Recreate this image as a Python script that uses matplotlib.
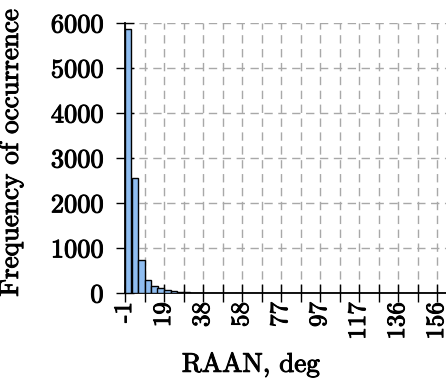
import numpy as np
import matplotlib
matplotlib.use("Agg")
import matplotlib.pyplot as plt
import matplotlib.patheffects as pe

# histogram of RAAN values
raan_min = -1.0
raan_max = 195.0
n_bins = 60
counts = [5870, 2550, 740, 290, 165, 105, 62, 38, 24, 16,
          11, 8, 6, 5, 4, 4, 3, 3, 2, 2,
          1, 1, 1, 1, 0, 0, 0, 0, 0, 0,
          0, 0, 0, 0, 0, 0, 0, 0, 0, 0,
          0, 0, 0, 0, 0, 0, 0, 0, 0, 0,
          0, 0, 0, 0, 0, 0, 0, 0, 0, 0]
y_ticks = [0, 1000, 2000, 3000, 4000, 5000, 6000]

plt.rcParams['font.family'] = ['cmr10', 'DejaVu Serif']
plt.rcParams['axes.unicode_minus'] = False
plt.rcParams['mathtext.fontset'] = 'cm'

W, H = 446, 390
fig = plt.figure(figsize=(W / 100, H / 100), dpi=100)
# the axes runs past the right edge of the picture (cropped original)
ax = fig.add_axes([125 / W, 97 / H, 390 / W, 270 / H])

edges = np.linspace(raan_min, raan_max, n_bins + 1)
ax.bar(edges[:-1], counts, width=np.diff(edges), align='edge',
       color='#8fbdf0', edgecolor='black', linewidth=1.0, zorder=3)

major = np.linspace(raan_min, raan_max, 11)
minor = (major[:-1] + major[1:]) / 2
ax.set_xticks(major)
ax.set_xticklabels([f"{v:.0f}" for v in major], rotation=90)
ax.set_xticks(minor, minor=True)
ax.set_yticks(y_ticks)
ax.set_xlim(raan_min, raan_max)
ax.set_ylim(0, 6000)

ax.grid(True, which='both', axis='x', linestyle=(0, (6, 4)), color='#a8a8a8', linewidth=1.0, zorder=0)
ax.grid(True, which='major', axis='y', linestyle=(0, (6, 4)), color='#a8a8a8', linewidth=1.0, zorder=0)
ax.set_axisbelow(True)

for s in ['top', 'right']:
    ax.spines[s].set_visible(False)
ax.spines['left'].set_linewidth(1.3)
ax.spines['bottom'].set_linewidth(1.3)
ax.tick_params(which='both', direction='inout', length=13, width=1.0, labelsize=19)
ax.tick_params(axis='y', pad=9)
ax.tick_params(axis='x', pad=0, labelsize=18)

# the original text is a bit heavier than cmr10
heavy = [pe.withStroke(linewidth=0.7, foreground='black')]
for lab in ax.get_xticklabels() + ax.get_yticklabels():
    lab.set_path_effects(heavy)

fig.text(11 / W, (390 - 153) / H, "Frequency of occurrence", rotation=90,
         ha='center', va='center', fontsize=19.5, path_effects=heavy)
fig.text(251 / W, 25 / H, "RAAN, deg", ha='center', va='center', fontsize=19.5,
         path_effects=heavy)

fig.savefig("out.png", dpi=100)
